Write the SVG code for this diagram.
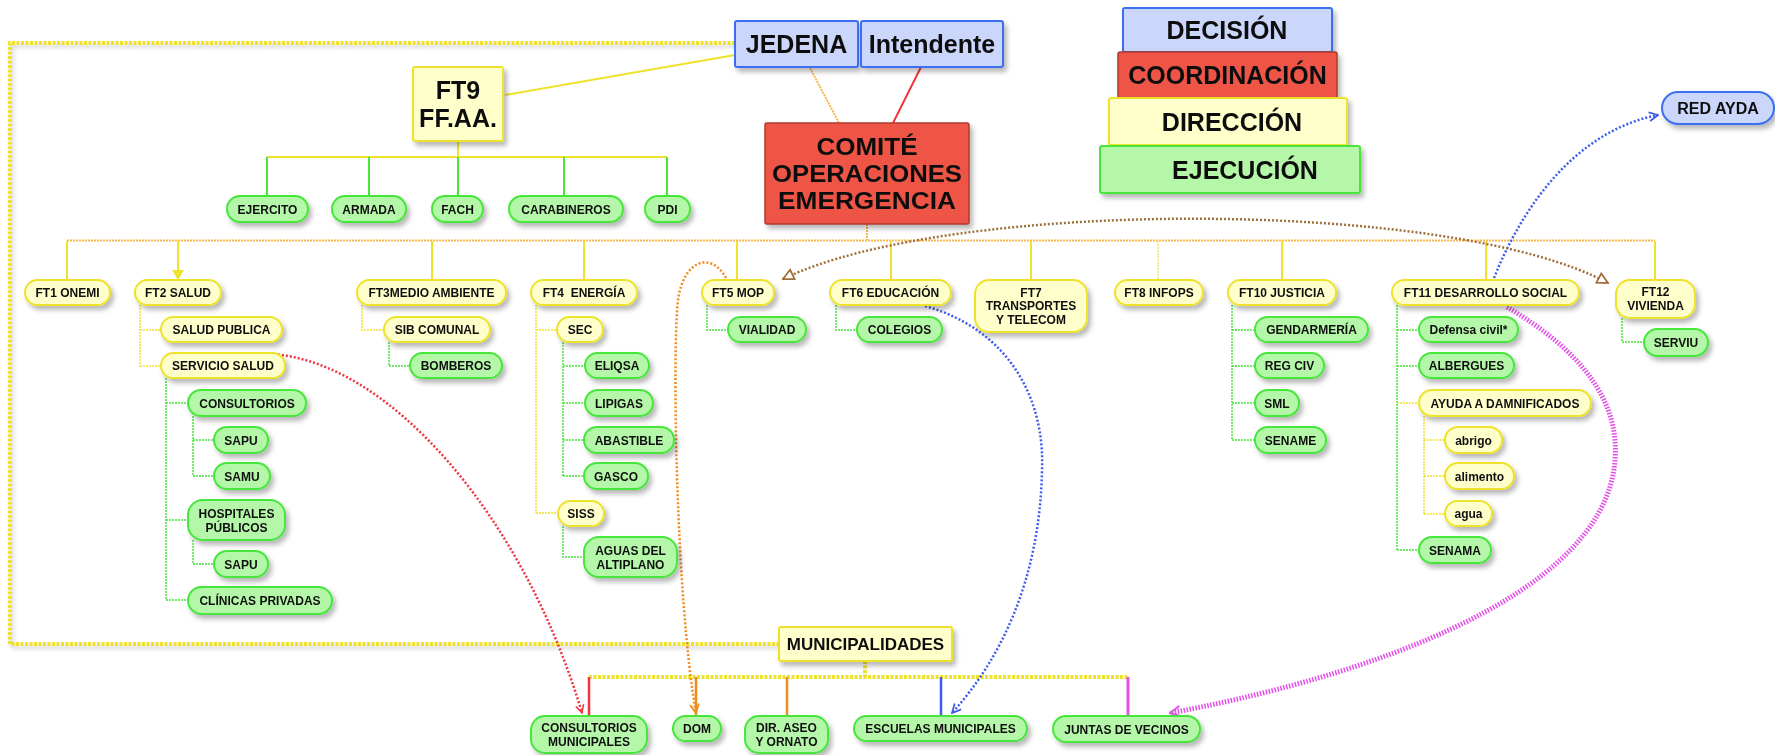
<svg xmlns="http://www.w3.org/2000/svg" width="1775" height="755" viewBox="0 0 1775 755">
<defs>
<filter id="sh" x="-20%" y="-30%" width="150%" height="180%"><feDropShadow dx="3" dy="4" stdDeviation="2.5" flood-color="#000" flood-opacity="0.28"/></filter>
<filter id="shl" x="-5%" y="-5%" width="110%" height="120%"><feDropShadow dx="2" dy="3" stdDeviation="2" flood-color="#000" flood-opacity="0.2"/></filter>
<marker id="mRed" viewBox="0 0 10 10" refX="9" refY="5" markerWidth="10" markerHeight="10" markerUnits="userSpaceOnUse" orient="auto"><path d="M1,1 L9,5 L1,9" fill="none" stroke="#f0333d" stroke-width="1.5"/></marker>
<marker id="mOr" viewBox="0 0 10 10" refX="9" refY="5" markerWidth="11" markerHeight="11" markerUnits="userSpaceOnUse" orient="auto"><path d="M1,1 L9,5 L1,9" fill="none" stroke="#f08a1c" stroke-width="1.6"/></marker>
<marker id="mBlue" viewBox="0 0 10 10" refX="9" refY="5" markerWidth="11" markerHeight="11" markerUnits="userSpaceOnUse" orient="auto"><path d="M1,1 L9,5 L1,9" fill="none" stroke="#3f5cf0" stroke-width="1.6"/></marker>
<marker id="mBr" viewBox="0 0 10 10" refX="9" refY="5" markerWidth="13" markerHeight="13" markerUnits="userSpaceOnUse" orient="auto-start-reverse"><path d="M1,1 L9,5 L1,9 Z" fill="#fff" stroke="#a0703a" stroke-width="1.4"/></marker>
<marker id="mMag" viewBox="0 0 10 10" refX="9" refY="5" markerWidth="13" markerHeight="13" markerUnits="userSpaceOnUse" orient="auto"><path d="M1,1 L9,5 L1,9" fill="none" stroke="#e54ee8" stroke-width="1.6"/></marker>
</defs>
<style>
.t{font-family:"Liberation Sans",Arial,Helvetica,sans-serif;font-weight:bold;fill:#111;text-anchor:middle}
.s{font-size:12px}
.y{fill:#ffffcc;stroke:#eee22a;stroke-width:2}
.g{fill:#b5f7a9;stroke:#46e63b;stroke-width:2}
.b{fill:#cbd6fb;stroke:#3a6ef0;stroke-width:2}
.r{fill:#ef5547;stroke:#b0392e;stroke-width:1.5}
.n{filter:url(#sh)}
.ys{stroke:#eee22a;stroke-width:2;fill:none}
.gs{stroke:#46e63b;stroke-width:2;fill:none}
.yd{stroke:#eee22a;stroke-width:1.5;fill:none;stroke-dasharray:2,1}
.gd{stroke:#46e63b;stroke-width:1.5;fill:none;stroke-dasharray:2,1}
.od{stroke:#f7b64a;stroke-width:2;fill:none;stroke-dasharray:2,1}
.big{stroke:#eee22a;stroke-width:4;fill:none;stroke-dasharray:3,1.5}
</style>
<g id="connectors">
<path class="big" filter="url(#shl)" d="M735,43 H10 V644 H779"/>
<path class="ys" d="M505,95 L735,55"/>
<path d="M810,68 L839,123" stroke="#f7b64a" stroke-width="2" stroke-dasharray="2,1" fill="none"/>
<path d="M921,67 L893,123" stroke="#f0333d" stroke-width="2" fill="none"/>
<path class="ys" d="M458,141 V157 M267,157 H667"/>
<path class="gs" d="M267,157 V196 M369,157 V196 M458,157 V196 M564,157 V196 M667,157 V196"/>
<path class="od" d="M867,224 V240 M67,240.5 H1655"/>
<path class="ys" d="M67,241 V280 M178,241 V272 M432,241 V280 M584,241 V280 M737,241 V280 M891,241 V280 M1031,241 V280 M1282,241 V280 M1486,241 V280 M1655,241 V280"/>
<path d="M1158,241 V280" stroke="#f5ee90" stroke-width="2" stroke-dasharray="2,1" fill="none"/>
<polygon points="172,270 184,270 178,280" fill="#eee22a"/>
<path class="yd" d="M140,305 V366 M140,330 H161 M140,366 H161"/>
<path class="gd" d="M166,378 V600 M166,403 H188 M166,520 H188 M166,600 H188"/>
<path class="gd" d="M193,416 V476 M193,440 H214 M193,476 H214 M193,540 V564 H214"/>
<path class="yd" d="M362,305 V330 H384"/>
<path class="gd" d="M389,342 V366 H410"/>
<path class="yd" d="M536,305 V513 M536,330 H557 M536,513 H558"/>
<path class="gd" d="M563,342 V476 M563,366 H585 M563,403 H585 M563,440 H584 M563,476 H584 M563,526 V557 H584"/>
<path class="gd" d="M707,305 V330 H728 M836,305 V330 H857 M1622,318 V342 H1644"/>
<path class="gd" d="M1232,305 V440 M1232,330 H1255 M1232,366 H1255 M1232,403 H1255 M1232,440 H1255"/>
<path class="gd" d="M1397,305 V550 M1397,330 H1419 M1397,366 H1419 M1397,550 H1419"/>
<path class="yd" d="M1397,403 H1419 M1424,416 V514 M1424,440 H1445 M1424,476 H1445 M1424,514 H1445"/>
<path class="big" d="M865,661 V677 M589,677 H1128"/>
<path d="M589,677 V716" stroke="#f0333d" stroke-width="2.5" fill="none"/>
<path d="M696,677 V716 M787,677 V716" stroke="#f08a1c" stroke-width="2.5" fill="none"/>
<path d="M941,677 V716" stroke="#3f5cf0" stroke-width="2.5" fill="none"/>
<path d="M1128,677 V716" stroke="#e54ee8" stroke-width="3" fill="none"/>
<path d="M270,354 C390,360 525,520 582,713" stroke="#f0333d" stroke-width="2.5" stroke-dasharray="2,2" fill="none" marker-end="url(#mRed)"/>
<path d="M726,278 C712,252 684,258 678,300 C672,350 676,600 696,713" stroke="#f08a1c" stroke-width="2.5" stroke-dasharray="2,2" fill="none" marker-end="url(#mOr)"/>
<path d="M925,306 C1010,330 1045,400 1042,470 C1040,580 1000,660 952,713" stroke="#3f5cf0" stroke-width="2.5" stroke-dasharray="2,2" fill="none" marker-end="url(#mBlue)"/>
<path d="M1494,278 C1525,200 1580,130 1658,115" stroke="#3f5cf0" stroke-width="2.5" stroke-dasharray="2,2" fill="none" marker-end="url(#mBlue)"/>
<path d="M783,279 C950,198 1450,198 1608,283" stroke="#a0703a" stroke-width="2.5" stroke-dasharray="2,2" fill="none" marker-start="url(#mBr)" marker-end="url(#mBr)"/>
<path d="M1507,307 C1580,350 1620,400 1615,460 C1605,600 1350,680 1170,713" stroke="#e54ee8" stroke-width="5" stroke-dasharray="1.5,1.5" fill="none" marker-end="url(#mMag)"/>
</g>
<g id="jedena" class="n"><rect class="b" x="735" y="21" width="123" height="46" rx="2"/><text class="t" x="796.5" y="53" font-size="25">JEDENA</text></g>
<g id="intendente" class="n"><rect class="b" x="861" y="21" width="142" height="46" rx="2"/><text class="t" x="932" y="53" font-size="25">Intendente</text></g>
<g id="ft9" class="n"><rect class="y" x="413" y="67" width="90" height="74" rx="2"/><text class="t" x="458" y="99" font-size="25">FT9</text><text class="t" x="458" y="127" font-size="25">FF.AA.</text></g>
<g id="comite" class="n"><rect class="r" x="765" y="123" width="204" height="101" rx="2"/><text class="t" x="867" y="155" font-size="24" textLength="101" lengthAdjust="spacingAndGlyphs">COMITÉ</text><text class="t" x="867" y="182" font-size="24" textLength="190" lengthAdjust="spacingAndGlyphs">OPERACIONES</text><text class="t" x="867" y="209" font-size="24" textLength="178" lengthAdjust="spacingAndGlyphs">EMERGENCIA</text></g>
<g id="decision" class="n"><rect class="b" x="1123" y="8" width="209" height="44" rx="2"/><text class="t" x="1227" y="39" font-size="25">DECISIÓN</text></g>
<g id="coordinacion" class="n"><rect class="r" x="1118" y="52" width="219" height="46" rx="2"/><text class="t" x="1227.5" y="84" font-size="25">COORDINACIÓN</text></g>
<g id="direccion" class="n"><rect class="y" x="1109" y="98" width="238" height="47" rx="2"/><text class="t" x="1232" y="130.5" font-size="25">DIRECCIÓN</text></g>
<g id="ejecucion" class="n"><rect class="g" x="1100" y="146" width="260" height="47" rx="2"/><text class="t" x="1245" y="178.5" font-size="25">EJECUCIÓN</text></g>
<g id="redayda" class="n"><rect class="b" x="1662" y="92" width="112" height="32" rx="16"/><text class="t" x="1718" y="113.5" font-size="16">RED AYDA</text></g>
<g id="municipalidades" class="n"><rect class="y" x="779" y="627" width="173" height="34" rx="2"/><text class="t" x="865.5" y="650" font-size="17">MUNICIPALIDADES</text></g>
<g id="ejercito" class="n"><rect class="g" x="227" y="196" width="81" height="26" rx="13"/><text class="t s" x="267.5" y="213.5">EJERCITO</text></g>
<g id="armada" class="n"><rect class="g" x="332" y="196" width="74" height="26" rx="13"/><text class="t s" x="369" y="213.5">ARMADA</text></g>
<g id="fach" class="n"><rect class="g" x="432" y="196" width="51" height="26" rx="13"/><text class="t s" x="457.5" y="213.5">FACH</text></g>
<g id="carabineros" class="n"><rect class="g" x="509" y="196" width="114" height="26" rx="13"/><text class="t s" x="566" y="213.5">CARABINEROS</text></g>
<g id="pdi" class="n"><rect class="g" x="645" y="196" width="45" height="26" rx="13"/><text class="t s" x="667.5" y="213.5">PDI</text></g>
<g id="ft1" class="n"><rect class="y" x="25" y="280" width="85" height="25" rx="12.5"/><text class="t s" x="67.5" y="297">FT1 ONEMI</text></g>
<g id="ft2" class="n"><rect class="y" x="135" y="280" width="86" height="25" rx="12.5"/><text class="t s" x="178" y="297">FT2 SALUD</text></g>
<g id="ft3" class="n"><rect class="y" x="357" y="280" width="149" height="25" rx="12.5"/><text class="t s" x="431.5" y="297">FT3MEDIO AMBIENTE</text></g>
<g id="ft4" class="n"><rect class="y" x="531" y="280" width="106" height="25" rx="12.5"/><text class="t s" x="584" y="297">FT4&#160; ENERGÍA</text></g>
<g id="ft5" class="n"><rect class="y" x="702" y="280" width="72" height="25" rx="12.5"/><text class="t s" x="738" y="297">FT5 MOP</text></g>
<g id="ft6" class="n"><rect class="y" x="830" y="280" width="121" height="25" rx="12.5"/><text class="t s" x="890.5" y="297">FT6 EDUCACIÓN</text></g>
<g id="ft7" class="n"><rect class="y" x="975" y="280" width="112" height="52" rx="14"/><text class="t s" x="1031" y="296.5">FT7</text><text class="t s" x="1031" y="310">TRANSPORTES</text><text class="t s" x="1031" y="323.5">Y TELECOM</text></g>
<g id="ft8" class="n"><rect class="y" x="1115" y="280" width="88" height="25" rx="12.5"/><text class="t s" x="1159" y="297">FT8 INFOPS</text></g>
<g id="ft10" class="n"><rect class="y" x="1228" y="280" width="108" height="25" rx="12.5"/><text class="t s" x="1282" y="297">FT10 JUSTICIA</text></g>
<g id="ft11" class="n"><rect class="y" x="1392" y="280" width="187" height="25" rx="12.5"/><text class="t s" x="1485.5" y="297">FT11 DESARROLLO SOCIAL</text></g>
<g id="ft12" class="n"><rect class="y" x="1616" y="280" width="79" height="38" rx="14"/><text class="t s" x="1655.5" y="296">FT12</text><text class="t s" x="1655.5" y="310">VIVIENDA</text></g>
<g id="saludpublica" class="n"><rect class="y" x="161" y="317" width="121" height="25" rx="12.5"/><text class="t s" x="221.5" y="334">SALUD PUBLICA</text></g>
<g id="serviciosalud" class="n"><rect class="y" x="161" y="353" width="124" height="25" rx="12.5"/><text class="t s" x="223" y="370">SERVICIO SALUD</text></g>
<g id="consultorios" class="n"><rect class="g" x="188" y="390" width="118" height="26" rx="13"/><text class="t s" x="247" y="407.5">CONSULTORIOS</text></g>
<g id="sapu1" class="n"><rect class="g" x="214" y="427" width="54" height="26" rx="13"/><text class="t s" x="241" y="444.5">SAPU</text></g>
<g id="samu" class="n"><rect class="g" x="214" y="463" width="56" height="26" rx="13"/><text class="t s" x="242" y="480.5">SAMU</text></g>
<g id="hospitales" class="n"><rect class="g" x="188" y="500" width="97" height="40" rx="15"/><text class="t s" x="236.5" y="518">HOSPITALES</text><text class="t s" x="236.5" y="531.5">PÚBLICOS</text></g>
<g id="sapu2" class="n"><rect class="g" x="214" y="551" width="54" height="26" rx="13"/><text class="t s" x="241" y="568.5">SAPU</text></g>
<g id="clinicas" class="n"><rect class="g" x="188" y="587" width="144" height="27" rx="13.5"/><text class="t s" x="260" y="605">CLÍNICAS PRIVADAS</text></g>
<g id="sibcomunal" class="n"><rect class="y" x="384" y="317" width="106" height="25" rx="12.5"/><text class="t s" x="437" y="334">SIB COMUNAL</text></g>
<g id="bomberos" class="n"><rect class="g" x="410" y="353" width="92" height="25" rx="12.5"/><text class="t s" x="456" y="370">BOMBEROS</text></g>
<g id="sec" class="n"><rect class="y" x="557" y="317" width="46" height="25" rx="12.5"/><text class="t s" x="580" y="334">SEC</text></g>
<g id="eliqsa" class="n"><rect class="g" x="585" y="353" width="64" height="25" rx="12.5"/><text class="t s" x="617" y="370">ELIQSA</text></g>
<g id="lipigas" class="n"><rect class="g" x="585" y="390" width="68" height="26" rx="13"/><text class="t s" x="619" y="407.5">LIPIGAS</text></g>
<g id="abastible" class="n"><rect class="g" x="584" y="427" width="90" height="26" rx="13"/><text class="t s" x="629" y="444.5">ABASTIBLE</text></g>
<g id="gasco" class="n"><rect class="g" x="584" y="463" width="64" height="26" rx="13"/><text class="t s" x="616" y="480.5">GASCO</text></g>
<g id="siss" class="n"><rect class="y" x="558" y="501" width="46" height="25" rx="12.5"/><text class="t s" x="581" y="518">SISS</text></g>
<g id="aguas" class="n"><rect class="g" x="584" y="537" width="93" height="40" rx="15"/><text class="t s" x="630.5" y="555">AGUAS DEL</text><text class="t s" x="630.5" y="568.5">ALTIPLANO</text></g>
<g id="vialidad" class="n"><rect class="g" x="728" y="317" width="78" height="25" rx="12.5"/><text class="t s" x="767" y="334">VIALIDAD</text></g>
<g id="colegios" class="n"><rect class="g" x="857" y="317" width="85" height="25" rx="12.5"/><text class="t s" x="899.5" y="334">COLEGIOS</text></g>
<g id="gendarmeria" class="n"><rect class="g" x="1255" y="317" width="113" height="25" rx="12.5"/><text class="t s" x="1311.5" y="334">GENDARMERÍA</text></g>
<g id="regciv" class="n"><rect class="g" x="1255" y="353" width="69" height="25" rx="12.5"/><text class="t s" x="1289.5" y="370">REG CIV</text></g>
<g id="sml" class="n"><rect class="g" x="1255" y="390" width="44" height="26" rx="13"/><text class="t s" x="1277" y="407.5">SML</text></g>
<g id="sename" class="n"><rect class="g" x="1255" y="427" width="71" height="26" rx="13"/><text class="t s" x="1290.5" y="444.5">SENAME</text></g>
<g id="defensacivil" class="n"><rect class="g" x="1419" y="317" width="99" height="25" rx="12.5"/><text class="t s" x="1468.5" y="334">Defensa civil*</text></g>
<g id="albergues" class="n"><rect class="g" x="1419" y="353" width="95" height="25" rx="12.5"/><text class="t s" x="1466.5" y="370">ALBERGUES</text></g>
<g id="ayuda" class="n"><rect class="y" x="1419" y="390" width="172" height="26" rx="13"/><text class="t s" x="1505" y="407.5">AYUDA A DAMNIFICADOS</text></g>
<g id="abrigo" class="n"><rect class="y" x="1445" y="427" width="57" height="26" rx="13"/><text class="t s" x="1473.5" y="444.5">abrigo</text></g>
<g id="alimento" class="n"><rect class="y" x="1445" y="463" width="69" height="26" rx="13"/><text class="t s" x="1479.5" y="480.5">alimento</text></g>
<g id="agua" class="n"><rect class="y" x="1445" y="501" width="47" height="25" rx="12.5"/><text class="t s" x="1468.5" y="518">agua</text></g>
<g id="senama" class="n"><rect class="g" x="1419" y="537" width="72" height="26" rx="13"/><text class="t s" x="1455" y="554.5">SENAMA</text></g>
<g id="serviu" class="n"><rect class="g" x="1644" y="329" width="64" height="27" rx="13.5"/><text class="t s" x="1676" y="347">SERVIU</text></g>
<g id="consultoriosmun" class="n"><rect class="g" x="531" y="716" width="116" height="37" rx="14"/><text class="t s" x="589" y="732">CONSULTORIOS</text><text class="t s" x="589" y="746">MUNICIPALES</text></g>
<g id="dom" class="n"><rect class="g" x="673" y="716" width="48" height="25" rx="12.5"/><text class="t s" x="697" y="733">DOM</text></g>
<g id="dirase" class="n"><rect class="g" x="745" y="716" width="83" height="37" rx="14"/><text class="t s" x="786.5" y="732">DIR. ASEO</text><text class="t s" x="786.5" y="746">Y ORNATO</text></g>
<g id="escuelas" class="n"><rect class="g" x="854" y="716" width="173" height="25" rx="12.5"/><text class="t s" x="940.5" y="733">ESCUELAS MUNICIPALES</text></g>
<g id="juntas" class="n"><rect class="g" x="1053" y="716" width="147" height="26" rx="13"/><text class="t s" x="1126.5" y="733.5">JUNTAS DE VECINOS</text></g>
</svg>
